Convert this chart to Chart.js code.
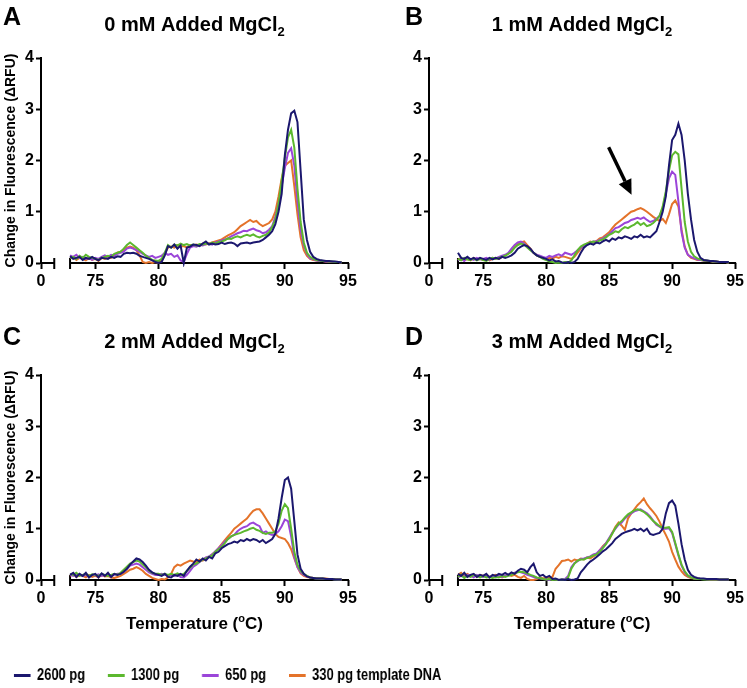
<!DOCTYPE html>
<html>
<head>
<meta charset="utf-8">
<script src="https://cdn.jsdelivr.net/npm/chart.js@4.4.1/dist/chart.umd.min.js"></script>
<style>
  html, body { margin: 0; padding: 0; background: #fff; }
  body { width: 747px; height: 688px; position: relative; overflow: hidden; }
  canvas { position: absolute; }
  #cA { left: 0; top: 0; }
  #cB { left: 373px; top: 0; }
  #cC { left: 0; top: 317px; }
  #cD { left: 373px; top: 317px; }
  /* legend text in the figure is condensed: squeeze the legend canvas sideways */
  #cLegend { left: -9px; top: 637px; transform: scaleX(0.76); transform-origin: 0 0; }
</style>
</head>
<body>
<canvas id="cA" width="373" height="317"></canvas>
<canvas id="cB" width="374" height="317"></canvas>
<canvas id="cC" width="373" height="323"></canvas>
<canvas id="cD" width="374" height="323"></canvas>
<canvas id="cLegend" width="990" height="160"></canvas>
<script>
// melt curve temperatures, 0.25 °C apart
const temps = [
  73, 73.25, 73.5, 73.75, 74, 74.25, 74.5, 74.75, 75, 75.25, 75.5, 75.75,
  76, 76.25, 76.5, 76.75, 77, 77.25, 77.5, 77.75, 78, 78.25, 78.5, 78.75,
  79, 79.25, 79.5, 79.75, 80, 80.25, 80.5, 80.75, 81, 81.25, 81.5, 81.75,
  82, 82.25, 82.5, 82.75, 83, 83.25, 83.5, 83.75, 84, 84.25, 84.5, 84.75,
  85, 85.25, 85.5, 85.75, 86, 86.25, 86.5, 86.75, 87, 87.25, 87.5, 87.75,
  88, 88.25, 88.5, 88.75, 89, 89.25, 89.5, 89.75, 90, 90.25, 90.5, 90.75,
  91, 91.25, 91.5, 91.75, 92, 92.25, 92.5, 92.75, 93, 93.25, 93.5, 93.75,
  94, 94.25, 94.5
]

const seriesNames = ["2600 pg", "1300 pg", "650 pg", "330 pg template DNA"]
const seriesColors = ["#1b176e", "#5cb82e", "#9b45d9", "#e4732a"]
const panelLetters = ["A", "B", "C", "D"]
const panelTitles = ["0 mM Added MgCl", "1 mM Added MgCl", "2 mM Added MgCl", "3 mM Added MgCl"]
const titleSub = "2"
const xTickValues = [75, 80, 85, 90, 95]
const xOrigin = 70.7          // the "0" of the broken axis
const xOriginLabel = "0"
const xBreak = [71.75, 73]
const yTitle = "Change in Fluorescence (\u0394RFU)"
const xTitle = ["Temperature (", "o", "C)"]
const arrowFrom = [84.96, 2.26]
const arrowTo = [86.78, 1.33]

// A: 0 mM
const a2600 = [
  0.13, 0.08, 0.1, 0.12, 0.06, 0.1, 0.08, 0.12, 0.08, 0.05, 0.1, 0.09,
  0.08, 0.12, 0.1, 0.13, 0.12, 0.18, 0.2, 0.19, 0.2, 0.18, 0.14, 0.12,
  0.1, 0.08, 0.05, 0.02, 0.0, 0.02, 0.15, 0.33, 0.3, 0.36, 0.28, 0.34,
  0.0, 0.3, 0.32, 0.36, 0.35, 0.33, 0.38, 0.42, 0.36, 0.38, 0.36, 0.37,
  0.4, 0.37, 0.39, 0.4, 0.38, 0.33, 0.38, 0.39, 0.4, 0.38, 0.4, 0.41,
  0.42, 0.45, 0.5, 0.55, 0.62, 0.76, 1.0, 1.35, 2.1, 2.6, 2.92, 2.97,
  2.75, 1.8, 0.85, 0.45, 0.22, 0.12, 0.08, 0.06, 0.05, 0.04, 0.04, 0.03,
  0.03, 0.02, 0.01
]
const a1300 = [
  0.1, 0.12, 0.08, 0.14, 0.1, 0.16, 0.12, 0.1, 0.08, 0.06, 0.1, 0.12,
  0.14, 0.12, 0.18, 0.2, 0.22, 0.28, 0.35, 0.4, 0.35, 0.3, 0.25, 0.2,
  0.14, 0.1, 0.06, 0.05, 0.04, 0.08, 0.2, 0.35, 0.3, 0.36, 0.34, 0.38,
  0.35, 0.37, 0.34, 0.36, 0.34, 0.37, 0.36, 0.38, 0.37, 0.4, 0.38, 0.41,
  0.42, 0.44, 0.48, 0.47, 0.5, 0.52, 0.5, 0.53, 0.55, 0.53, 0.56, 0.52,
  0.5, 0.53, 0.55, 0.6, 0.7, 0.85, 1.15, 1.6, 2.05, 2.45, 2.6, 2.25,
  1.45, 0.8, 0.4, 0.2, 0.12, 0.08, 0.06, 0.05, 0.04, 0.04, 0.03, 0.03,
  0.02, 0.02, 0.01
]
const a650 = [
  0.15, 0.12, 0.16, 0.1, 0.12, 0.08, 0.1, 0.06, 0.1, 0.08, 0.12, 0.15,
  0.12, 0.16, 0.14, 0.18, 0.2, 0.22, 0.28, 0.3, 0.28, 0.25, 0.22, 0.18,
  0.15, 0.12, 0.14, 0.1, 0.12, 0.14, 0.2, 0.16, 0.18, 0.12, 0.15, 0.05,
  0.02, 0.18, 0.3, 0.33, 0.32, 0.35, 0.34, 0.37, 0.38, 0.36, 0.4, 0.42,
  0.44, 0.46, 0.48, 0.52, 0.55, 0.58, 0.6, 0.63, 0.62, 0.65, 0.67, 0.64,
  0.62, 0.58, 0.6, 0.65, 0.72, 0.9, 1.15, 1.5, 1.85, 2.15, 2.24, 1.9,
  1.2, 0.65, 0.35, 0.18, 0.09, 0.07, 0.05, 0.04, 0.04, 0.03, 0.03, 0.03,
  0.02, 0.02, 0.01
]
const a330 = [
  0.1, 0.12, 0.06, 0.1, 0.08, 0.05, 0.1, 0.06, 0.08, 0.04, 0.1, 0.08,
  0.12, 0.1, 0.15, 0.2, 0.22, 0.25, 0.3, 0.32, 0.3, 0.25, 0.15, 0.02,
  0.0, 0.02, 0.0, 0.02, 0.0, 0.05, 0.18, 0.3, 0.32, 0.3, 0.35, 0.32,
  0.33, 0.3, 0.35, 0.34, 0.36, 0.34, 0.38, 0.36, 0.38, 0.4, 0.42, 0.44,
  0.46, 0.5, 0.54, 0.57, 0.6, 0.66, 0.72, 0.76, 0.8, 0.84, 0.8, 0.82,
  0.76, 0.72, 0.75, 0.78, 0.85, 1.0, 1.3, 1.65, 1.9, 1.95, 2.0, 1.5,
  0.95, 0.5, 0.25, 0.14, 0.08, 0.06, 0.05, 0.04, 0.04, 0.03, 0.03, 0.02,
  0.02, 0.02, 0.01
]

// B: 1 mM
const b2600 = [
  0.2, 0.1, 0.08, 0.12, 0.07, 0.1, 0.06, 0.1, 0.08, 0.06, 0.1, 0.07,
  0.1, 0.08, 0.12, 0.1, 0.12, 0.15, 0.2, 0.28, 0.32, 0.35, 0.33, 0.28,
  0.2, 0.15, 0.12, 0.1, 0.08, 0.05, 0.07, 0.03, 0.04, 0.01, 0.0, 0.02,
  0.0, 0.02, 0.08, 0.2, 0.3, 0.35, 0.38, 0.36, 0.4, 0.38, 0.42, 0.45,
  0.42, 0.48, 0.45, 0.5, 0.48, 0.52, 0.5, 0.47, 0.52, 0.5, 0.55, 0.5,
  0.52, 0.5, 0.56, 0.62, 0.8, 1.0, 1.3, 1.9, 2.4, 2.5, 2.72, 2.5,
  2.0, 1.35, 0.85, 0.45, 0.22, 0.1, 0.06, 0.05, 0.04, 0.04, 0.03, 0.02,
  0.02, 0.02, 0.02
]
const b1300 = [
  0.08, 0.05, 0.1, 0.07, 0.06, 0.09, 0.05, 0.08, 0.06, 0.04, 0.08, 0.1,
  0.08, 0.1, 0.12, 0.14, 0.18, 0.22, 0.3, 0.35, 0.38, 0.36, 0.3, 0.25,
  0.2, 0.15, 0.12, 0.08, 0.06, 0.03, 0.02, 0.0, 0.01, 0.0, 0.02, 0.01,
  0.05, 0.15, 0.25, 0.32, 0.36, 0.38, 0.4, 0.42, 0.4, 0.44, 0.46, 0.5,
  0.55, 0.58, 0.62, 0.6, 0.66, 0.7, 0.68, 0.72, 0.75, 0.8, 0.74, 0.78,
  0.72, 0.74, 0.78, 0.84, 0.92, 1.1, 1.4, 1.8, 2.1, 2.17, 2.12, 1.45,
  0.8, 0.42, 0.22, 0.13, 0.09, 0.07, 0.05, 0.05, 0.04, 0.03, 0.03, 0.02,
  0.02, 0.02, 0.01
]
const b650 = [
  0.05, 0.08, 0.04, 0.1, 0.08, 0.06, 0.1, 0.07, 0.08, 0.1, 0.06, 0.1,
  0.09, 0.12, 0.14, 0.16, 0.2, 0.28, 0.35, 0.4, 0.42, 0.38, 0.32, 0.26,
  0.2, 0.16, 0.14, 0.12, 0.1, 0.14, 0.12, 0.15, 0.17, 0.14, 0.2, 0.18,
  0.16, 0.2, 0.25, 0.3, 0.34, 0.37, 0.4, 0.42, 0.42, 0.45, 0.48, 0.52,
  0.56, 0.62, 0.68, 0.7, 0.74, 0.78, 0.8, 0.84, 0.86, 0.88, 0.86, 0.89,
  0.84, 0.8, 0.82, 0.86, 0.92, 1.05, 1.35, 1.65, 1.78, 1.72, 1.2, 0.6,
  0.3, 0.16, 0.12, 0.09, 0.07, 0.06, 0.05, 0.05, 0.04, 0.03, 0.03, 0.02,
  0.02, 0.02, 0.01
]
const b330 = [
  0.06, 0.1, 0.05, 0.08, 0.05, 0.1, 0.06, 0.08, 0.06, 0.09, 0.05, 0.08,
  0.1, 0.08, 0.12, 0.15, 0.18, 0.25, 0.32, 0.38, 0.4, 0.42, 0.35, 0.28,
  0.2, 0.15, 0.12, 0.1, 0.08, 0.1, 0.09, 0.12, 0.1, 0.13, 0.12, 0.1,
  0.08, 0.12, 0.2, 0.28, 0.34, 0.38, 0.42, 0.4, 0.43, 0.48, 0.5, 0.55,
  0.6, 0.68, 0.75, 0.8, 0.85, 0.9, 0.95, 1.0, 1.02, 1.05, 1.07, 1.04,
  1.0, 0.95, 0.9, 0.86, 0.82, 0.86, 0.78, 0.95, 1.15, 1.22, 1.1, 0.65,
  0.32, 0.16, 0.1, 0.08, 0.06, 0.06, 0.05, 0.04, 0.04, 0.03, 0.03, 0.02,
  0.02, 0.02, 0.01
]

// C: 2 mM
const c2600 = [
  0.1, 0.14, 0.06, 0.12, 0.08, 0.14, 0.05, 0.1, 0.12, 0.05, 0.13, 0.08,
  0.14, 0.06, 0.12, 0.1, 0.12, 0.16, 0.22, 0.3, 0.36, 0.42, 0.4, 0.35,
  0.28, 0.2, 0.15, 0.12, 0.1, 0.08, 0.12, 0.06, 0.05, 0.1, 0.08, 0.12,
  0.08, 0.18, 0.26, 0.32, 0.4, 0.36, 0.42, 0.38, 0.45, 0.42, 0.52, 0.55,
  0.62, 0.66, 0.7, 0.72, 0.75, 0.73, 0.78, 0.76, 0.8, 0.77, 0.8, 0.78,
  0.74, 0.78, 0.72, 0.76, 0.8, 0.9, 1.2, 1.6, 1.95, 2.0, 1.78, 1.15,
  0.5, 0.22, 0.12, 0.07, 0.05, 0.04, 0.03, 0.03, 0.03, 0.02, 0.02, 0.02,
  0.01, 0.01, 0.01
]
const c1300 = [
  0.12, 0.1, 0.14, 0.08, 0.1, 0.12, 0.08, 0.11, 0.1, 0.08, 0.12, 0.1,
  0.08, 0.1, 0.12, 0.1, 0.14, 0.2, 0.26, 0.32, 0.35, 0.38, 0.36, 0.3,
  0.25, 0.18, 0.14, 0.12, 0.12, 0.1, 0.12, 0.1, 0.12, 0.1, 0.13, 0.1,
  0.12, 0.18, 0.24, 0.3, 0.32, 0.36, 0.4, 0.42, 0.45, 0.48, 0.55, 0.6,
  0.65, 0.72, 0.8, 0.85, 0.88, 0.9, 0.92, 0.95, 0.97, 1.0, 1.02, 0.98,
  0.96, 0.92, 0.9, 0.92, 0.92, 0.95, 1.1, 1.35, 1.48, 1.4, 1.0, 0.55,
  0.3, 0.18, 0.12, 0.08, 0.05, 0.04, 0.03, 0.03, 0.03, 0.02, 0.02, 0.02,
  0.01, 0.01, 0.01
]
const c650 = [
  0.1, 0.08, 0.12, 0.1, 0.08, 0.1, 0.07, 0.1, 0.09, 0.11, 0.08, 0.1,
  0.1, 0.08, 0.1, 0.12, 0.12, 0.16, 0.22, 0.28, 0.3, 0.32, 0.3, 0.25,
  0.2, 0.15, 0.12, 0.1, 0.1, 0.12, 0.1, 0.09, 0.1, 0.08, 0.1, 0.06,
  0.05, 0.1, 0.18, 0.26, 0.3, 0.35, 0.4, 0.44, 0.46, 0.5, 0.56, 0.62,
  0.68, 0.75, 0.8, 0.85, 0.88, 0.95, 1.0, 1.03, 1.05, 1.1, 1.12, 1.08,
  1.05, 0.92, 0.95, 0.9, 0.88, 0.9, 0.95, 1.05, 1.18, 1.15, 0.85, 0.45,
  0.25, 0.15, 0.1, 0.07, 0.05, 0.04, 0.03, 0.03, 0.03, 0.02, 0.02, 0.02,
  0.01, 0.01, 0.01
]
const c330 = [
  0.08, 0.12, 0.06, 0.1, 0.08, 0.05, 0.1, 0.06, 0.08, 0.05, 0.1, 0.07,
  0.08, 0.05, 0.04, 0.06, 0.08, 0.12, 0.16, 0.2, 0.22, 0.25, 0.22, 0.18,
  0.12, 0.08, 0.04, 0.02, 0.0, 0.02, 0.01, 0.05, 0.12, 0.25, 0.3, 0.28,
  0.32, 0.35, 0.38, 0.36, 0.35, 0.4, 0.38, 0.43, 0.45, 0.5, 0.55, 0.62,
  0.7, 0.78, 0.85, 0.92, 1.0, 1.05, 1.1, 1.15, 1.2, 1.28, 1.35, 1.38,
  1.38, 1.3, 1.2, 1.1, 1.0, 0.9, 0.84, 0.82, 0.8, 0.72, 0.6, 0.42,
  0.25, 0.13, 0.08, 0.06, 0.05, 0.04, 0.04, 0.03, 0.03, 0.03, 0.02, 0.02,
  0.02, 0.01, 0.01
]

// D: 3 mM
const d2600 = [
  0.12, 0.08, 0.14, 0.06, 0.1, 0.12, 0.06, 0.1, 0.08, 0.12, 0.05, 0.1,
  0.08, 0.12, 0.1, 0.14, 0.1, 0.15, 0.12, 0.18, 0.22, 0.2, 0.15, 0.25,
  0.32, 0.15, 0.08, 0.1, 0.05, 0.08, 0.02, 0.03, 0.0, 0.01, 0.0, 0.02,
  0.0, 0.01, 0.03, 0.15, 0.22, 0.3, 0.36, 0.4, 0.45, 0.5, 0.56, 0.6,
  0.66, 0.72, 0.8, 0.85, 0.9, 0.93, 0.95, 0.97, 1.0, 0.97, 1.0, 0.95,
  1.0, 0.9, 0.88, 0.9, 0.92, 1.0, 1.3, 1.5, 1.55, 1.45, 1.1, 0.7,
  0.4, 0.2, 0.1, 0.06, 0.04, 0.03, 0.03, 0.02, 0.02, 0.02, 0.02, 0.01,
  0.01, 0.01, 0.01
]
const d1300 = [
  0.06, 0.1, 0.04, 0.08, 0.06, 0.1, 0.08, 0.05, 0.08, 0.05, 0.06, 0.04,
  0.06, 0.05, 0.08, 0.06, 0.08, 0.1, 0.13, 0.15, 0.16, 0.15, 0.13, 0.1,
  0.08, 0.05, 0.04, 0.02, 0.01, 0.02, 0.0, 0.01, 0.0, 0.01, 0.0, 0.05,
  0.22, 0.32, 0.38, 0.4, 0.4, 0.43, 0.45, 0.48, 0.5, 0.55, 0.62, 0.7,
  0.8, 0.9, 1.02, 1.1, 1.15, 1.22, 1.28, 1.32, 1.36, 1.38, 1.36, 1.33,
  1.28, 1.22, 1.15, 1.1, 1.05, 1.02, 1.02, 1.03, 0.94, 0.72, 0.5, 0.3,
  0.17, 0.09, 0.05, 0.03, 0.02, 0.02, 0.01, 0.01, 0.01, 0.01, 0.01, 0.01,
  0.01, 0.01, 0.01
]
const d650 = [
  0.05, 0.08, 0.06, 0.1, 0.08, 0.05, 0.1, 0.07, 0.06, 0.08, 0.05, 0.07,
  0.05, 0.08, 0.06, 0.09, 0.1, 0.12, 0.14, 0.16, 0.15, 0.13, 0.1, 0.08,
  0.06, 0.04, 0.03, 0.02, 0.01, 0.0, 0.02, 0.01, 0.0, 0.01, 0.02, 0.08,
  0.25, 0.33, 0.37, 0.41, 0.42, 0.44, 0.46, 0.5, 0.52, 0.58, 0.64, 0.72,
  0.82, 0.92, 1.0, 1.08, 1.12, 1.2, 1.26, 1.3, 1.34, 1.36, 1.38, 1.34,
  1.3, 1.24, 1.16, 1.08, 1.04, 1.0, 1.0, 1.01, 0.92, 0.7, 0.48, 0.28,
  0.15, 0.08, 0.05, 0.03, 0.02, 0.02, 0.02, 0.01, 0.01, 0.01, 0.01, 0.01,
  0.01, 0.01, 0.01
]
const d330 = [
  0.1, 0.14, 0.08, 0.12, 0.08, 0.1, 0.06, 0.1, 0.08, 0.1, 0.06, 0.08,
  0.1, 0.08, 0.05, 0.08, 0.1, 0.08, 0.1, 0.06, 0.04, 0.08, 0.02, 0.0,
  0.0, 0.02, 0.05, 0.03, 0.05, 0.04, 0.06, 0.22, 0.29, 0.37, 0.38, 0.4,
  0.36, 0.4, 0.38, 0.42, 0.4, 0.44, 0.42, 0.46, 0.5, 0.58, 0.66, 0.72,
  0.78, 0.92, 1.04, 1.12, 1.06, 0.98, 1.2, 1.3, 1.38, 1.46, 1.52, 1.59,
  1.48, 1.4, 1.33, 1.25, 1.14, 1.0, 0.88, 0.75, 0.55, 0.4, 0.26, 0.17,
  0.1, 0.06, 0.04, 0.03, 0.03, 0.02, 0.02, 0.02, 0.01, 0.01, 0.01, 0.01,
  0.01, 0.01, 0.01
]

const FONT = "'Liberation Sans', Arial, Helvetica, sans-serif"
Chart.defaults.font.family = FONT
Chart.defaults.color = "#000"

// broken x axis, panel letter, title with subscript, x title, arrow
const panelDecor = {
  id: "panelDecor",
  beforeDatasetsDraw(chart) {
    const { ctx, scales: { x, y } } = chart
    const y0 = y.getPixelForValue(0)
    ctx.save()
    ctx.strokeStyle = "#000"
    ctx.lineWidth = 2
    ctx.beginPath()
    ctx.moveTo(x.getPixelForValue(xOrigin), y0)
    ctx.lineTo(x.getPixelForValue(xBreak[0]), y0)
    ctx.moveTo(x.getPixelForValue(xBreak[1]), y0)
    ctx.lineTo(x.getPixelForValue(95) + 1, y0)
    xBreak.forEach((v) => {
      const p = x.getPixelForValue(v)
      ctx.moveTo(p, y0 - 5)
      ctx.lineTo(p, y0 + 6)
    })
    ctx.stroke()
    ctx.restore()
  },
  afterDraw(chart, args, opts) {
    const { ctx, chartArea: area, scales: { x, y } } = chart
    const cx = (area.left + area.right) / 2
    ctx.save()
    ctx.fillStyle = "#000"
    ctx.textBaseline = "alphabetic"
    ctx.textAlign = "left"

    ctx.font = `bold 25px ${FONT}`
    ctx.fillText(opts.letter, opts.letterX, opts.letterY)

    ctx.font = `bold 20px ${FONT}`
    const wMain = ctx.measureText(opts.title).width
    ctx.font = `bold 13px ${FONT}`
    const wSub = ctx.measureText(titleSub).width
    const start = cx - (wMain + wSub) / 2
    ctx.font = `bold 20px ${FONT}`
    ctx.fillText(opts.title, start, 31)
    ctx.font = `bold 13px ${FONT}`
    ctx.fillText(titleSub, start + wMain, 36)

    if (opts.xTitle) {
      ctx.font = `bold 17px ${FONT}`
      const w1 = ctx.measureText(xTitle[0]).width
      const w3 = ctx.measureText(xTitle[2]).width
      ctx.font = `bold 11px ${FONT}`
      const w2 = ctx.measureText(xTitle[1]).width
      const s = cx - (w1 + w2 + w3) / 2
      const base = area.bottom + 49
      ctx.font = `bold 17px ${FONT}`
      ctx.fillText(xTitle[0], s, base)
      ctx.fillText(xTitle[2], s + w1 + w2, base)
      ctx.font = `bold 11px ${FONT}`
      ctx.fillText(xTitle[1], s + w1, base - 7)
    }

    if (opts.arrow) {
      const x0 = x.getPixelForValue(arrowFrom[0]), y0 = y.getPixelForValue(arrowFrom[1])
      const x1 = x.getPixelForValue(arrowTo[0]), y1 = y.getPixelForValue(arrowTo[1])
      const ang = Math.atan2(y1 - y0, x1 - x0)
      const headLen = 15, headHalf = 7
      const bx = x1 - headLen * Math.cos(ang), by = y1 - headLen * Math.sin(ang)
      ctx.strokeStyle = "#000"
      ctx.lineWidth = 3.5
      ctx.beginPath()
      ctx.moveTo(x0, y0)
      ctx.lineTo(bx, by)
      ctx.stroke()
      ctx.beginPath()
      ctx.moveTo(x1, y1)
      ctx.lineTo(bx + headHalf * Math.sin(ang), by - headHalf * Math.cos(ang))
      ctx.lineTo(bx - headHalf * Math.sin(ang), by + headHalf * Math.cos(ang))
      ctx.closePath()
      ctx.fill()
    }
    ctx.restore()
  }
}

function makePanel(id, idx, series, layout) {
  return new Chart(document.getElementById(id), {
    type: "line",
    data: {
      datasets: series.map((vals, i) => ({
        label: seriesNames[i],
        data: temps.map((t, j) => ({ x: t, y: vals[j] })),
        borderColor: seriesColors[i],
        backgroundColor: seriesColors[i],
        borderWidth: 2,
        pointRadius: 0,
        tension: 0,
        fill: false,
        clip: 4
      }))
    },
    options: {
      responsive: false,
      animation: false,
      events: [],
      layout: { padding: { left: layout.padLeft, right: layout.padRight, top: 58, bottom: layout.padBottom } },
      plugins: {
        legend: { display: false },
        tooltip: { enabled: false },
        panelDecor: {
          letter: panelLetters[idx],
          letterX: layout.letterX,
          letterY: layout.letterY,
          title: panelTitles[idx],
          xTitle: layout.xTitle,
          arrow: layout.arrow
        }
      },
      scales: {
        x: {
          type: "linear",
          min: xOrigin,
          max: 95,
          afterBuildTicks: (s) => { s.ticks = [xOrigin, ...xTickValues].map((v) => ({ value: v })) },
          afterFit: (s) => { s.height = 30 },
          border: { display: false },
          grid: { drawOnChartArea: false, tickLength: 6, tickWidth: 2, tickColor: "#000" },
          ticks: {
            color: "#000",
            font: { size: 16, weight: "bold" },
            padding: 3,
            maxRotation: 0,
            autoSkip: false,
            callback: (v) => (v === xOrigin ? xOriginLabel : v)
          }
        },
        y: {
          min: 0,
          max: 4,
          afterFit: (s) => { s.width = 41 },
          border: { display: true, color: "#000", width: 2 },
          grid: { drawOnChartArea: false, tickLength: 5, tickWidth: 2, tickColor: "#000" },
          ticks: { color: "#000", font: { size: 16, weight: "bold" }, padding: 2, stepSize: 1 },
          title: {
            display: layout.yTitle,
            text: yTitle,
            color: "#000",
            font: { size: 14, weight: "bold" },
            padding: { top: 3, bottom: 0 }
          }
        }
      }
    },
    plugins: [panelDecor]
  })
}

makePanel("cA", 0, [a2600, a1300, a650, a330],
  { padLeft: 0, padRight: 25, padBottom: 24, letterX: 3, letterY: 25, yTitle: true, xTitle: false, arrow: false })
makePanel("cB", 1, [b2600, b1300, b650, b330],
  { padLeft: 15, padRight: 10, padBottom: 24, letterX: 32, letterY: 25, yTitle: false, xTitle: false, arrow: true })
makePanel("cC", 2, [c2600, c1300, c650, c330],
  { padLeft: 0, padRight: 25, padBottom: 30, letterX: 3, letterY: 28, yTitle: true, xTitle: true, arrow: false })
makePanel("cD", 3, [d2600, d1300, d650, d330],
  { padLeft: 15, padRight: 10, padBottom: 30, letterX: 32, letterY: 28, yTitle: false, xTitle: true, arrow: false })

// shared legend along the bottom
new Chart(document.getElementById("cLegend"), {
  type: "line",
  data: {
    datasets: seriesNames.map((name, i) => ({
      label: name,
      data: [],
      borderColor: seriesColors[i],
      backgroundColor: seriesColors[i],
      borderWidth: 0
    }))
  },
  options: {
    responsive: false,
    animation: false,
    events: [],
    scales: { x: { display: false }, y: { display: false } },
    plugins: {
      tooltip: { enabled: false },
      legend: {
        position: "top",
        align: "start",
        labels: {
          boxWidth: 22,
          boxHeight: 3,
          padding: 30,
          color: "#000",
          font: { size: 17, weight: "bold" }
        }
      }
    }
  }
})
</script>
</body>
</html>
